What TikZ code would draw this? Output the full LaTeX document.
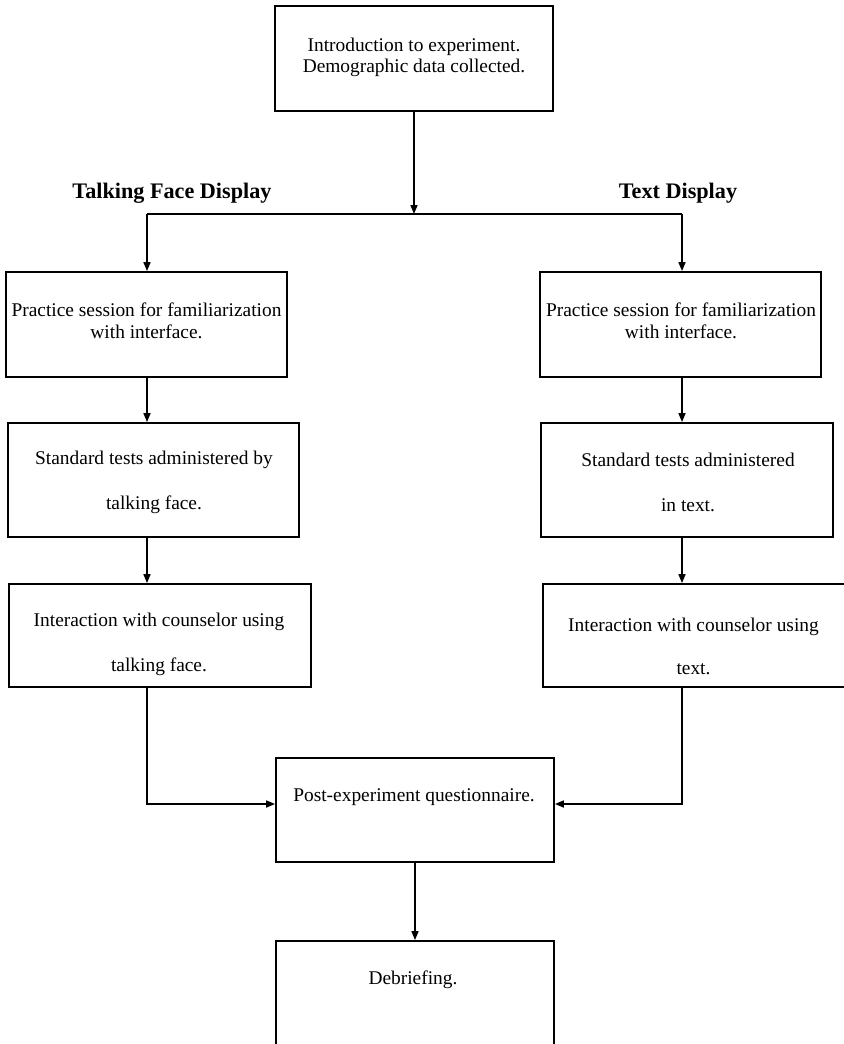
\documentclass[tikz,border=0pt]{standalone}
\usepackage{fontspec}
\setmainfont{Liberation Serif}
\usepackage{tikz}
\usetikzlibrary{positioning,arrows.meta}

\tikzset{
  stage/.style={draw,rectangle,line width=0.9pt,inner sep=0pt},
  txt/.style={align=center,inner sep=0pt,font=\fontsize{9.7}{10.5}\selectfont},
  head/.style={inner sep=0pt,font=\bfseries\fontsize{11.1}{13}\selectfont},
  link/.style={line width=0.8pt}
}

\begin{document}
\begin{tikzpicture}[x=0.5pt,y=-0.5pt,>={Triangle[length=4.5pt,width=3.5pt]}]
		
		\useasboundingbox (0,0) rectangle (843,1044);
		
		% Boxes
		\node[stage,minimum width=139pt,minimum height=52.5pt] (intro) at (414,58.5) {};
		\node[stage,minimum width=140.5pt,minimum height=52.5pt] (pracL) at (146.5,324.5) {};
		\node[stage,minimum width=140.5pt,minimum height=52.5pt] (pracR) at (680.5,324.5) {};
		\node[stage,minimum width=145.5pt,minimum height=57pt] (testL) at (153.5,480) {};
		\node[stage,minimum width=146pt,minimum height=57pt] (testR) at (687,480) {};
		\node[stage,minimum width=151pt,minimum height=51.5pt] (chatL) at (160,635.5) {};
		\node[stage,minimum width=153.5pt,minimum height=51.5pt] (chatR) at (696.5,635.5) {};
		\node[stage,minimum width=139pt,minimum height=52pt] (post) at (415,810) {};
		\node[stage,minimum width=139pt,minimum height=60pt] (debrief) at (415,1001) {};
		
		% Texts
		\node[txt] (introText) at (414,57) {Introduction to experiment.\\Demographic data collected.};
		\node[txt] (pracLText) at (146.5,321) {Practice session for familiarization\\[0.5pt]with interface.};
		\node[txt] (pracRText) at (681,321) {Practice session for familiarization\\[0.5pt]with interface.};
		\node[txt] (testLText) at (154,482.5) {Standard tests administered by\\[12pt]talking face.};
		\node[txt] (testRText) at (688,482.5) {Standard tests administered\\[12pt]in text.};
		\node[txt] (chatLText) at (159,644.5) {Interaction with counselor using\\[12pt]talking face.};
		\node[txt] (chatRText) at (693.5,646.5) {Interaction with counselor using\\[11pt]text.};
		\node[txt] (postText) at (414,797) {Post-experiment questionnaire.};
		\node[txt] (debriefText) at (413,980) {Debriefing.};
		
		% Headings
		\node[head] (faceHead) at (172,193) {Talking Face Display};
		\node[head] (textHead) at (678,193) {Text Display};
		
		% Connectors
		\coordinate (split) at (414,214);
		\coordinate (colL) at (147,214);
		\coordinate (colR) at (682,214);
		
		\draw[link,->] (intro) -- (split);
		\draw[link] (colL) -- (colR);
		\draw[link,->] (colL) -- (colL |- pracL.north);
		\draw[link,->] (colR) -- (colR |- pracR.north);
		\draw[link,->] (colL |- pracL.south) -- (colL |- testL.north);
		\draw[link,->] (colR |- pracR.south) -- (colR |- testR.north);
		\draw[link,->] (colL |- testL.south) -- (colL |- chatL.north);
		\draw[link,->] (colR |- testR.south) -- (colR |- chatR.north);
		\draw[link,->] (colL |- chatL.south) |- ([yshift=3pt]post.west);
		\draw[link,->] (colR |- chatR.south) |- ([yshift=3pt]post.east);
		\draw[link,->] (post) -- (debrief);
		
	\end{tikzpicture}
\end{document}
